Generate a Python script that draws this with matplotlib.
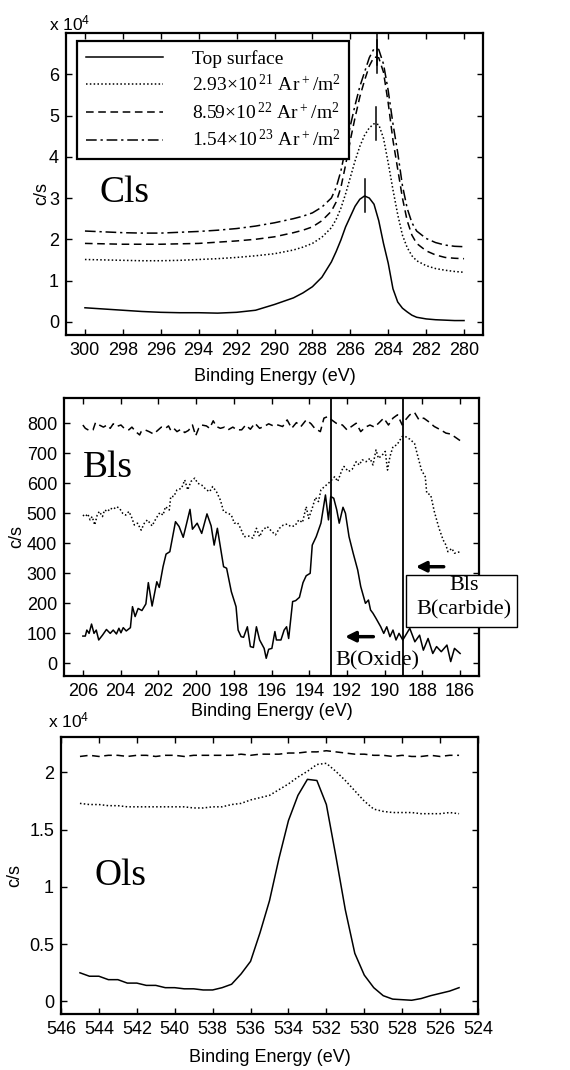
import matplotlib
matplotlib.use('Agg')
import matplotlib.pyplot as plt
from matplotlib.patches import Rectangle
from matplotlib.ticker import FormatStrFormatter

plt.rcParams['font.family'] = ['Liberation Sans', 'DejaVu Sans']

# ---- C1s (values in units of 1e4 c/s) ----
c1s_energy = [300, 299, 298, 297, 296, 295, 294, 293, 292, 291, 290, 289,
              288.5, 288, 287.5, 287,
              286.75, 286.5, 286.25, 286, 285.75, 285.5, 285.25, 285,
              284.75, 284.5, 284.25, 284, 283.75, 283.5, 283.25, 283,
              282.75, 282.5, 282, 281.5, 281, 280.5, 280]
c1s_top = [0.34, 0.31, 0.28, 0.25, 0.23, 0.22, 0.22, 0.21, 0.23, 0.28, 0.42, 0.58,
           0.70, 0.85, 1.08, 1.45,
           1.70, 1.98, 2.30, 2.55, 2.80, 2.97, 3.05, 3.00,
           2.85, 2.45, 1.90, 1.42, 0.80, 0.48, 0.33, 0.24,
           0.16, 0.11, 0.07, 0.05, 0.04, 0.03, 0.03]
c1s_dose1 = [1.51, 1.50, 1.49, 1.48, 1.48, 1.49, 1.51, 1.53, 1.56, 1.60, 1.65, 1.74,
             1.81, 1.90, 2.05, 2.28,
             2.48, 2.75, 3.10, 3.50, 3.90, 4.25, 4.52, 4.70,
             4.80, 4.78, 4.45, 3.85, 3.20, 2.60, 2.10, 1.80,
             1.60, 1.48, 1.36, 1.29, 1.25, 1.22, 1.20]
c1s_dose2 = [1.90, 1.89, 1.88, 1.88, 1.88, 1.89, 1.90, 1.93, 1.96, 2.00, 2.06, 2.16,
             2.22, 2.30, 2.45, 2.68,
             2.90, 3.25, 3.80, 4.40, 4.95, 5.45, 5.85, 6.20,
             6.42, 6.40, 6.05, 5.30, 4.40, 3.70, 3.00, 2.45,
             2.10, 1.90, 1.72, 1.62, 1.56, 1.54, 1.53]
c1s_dose3 = [2.20, 2.18, 2.16, 2.15, 2.15, 2.17, 2.19, 2.22, 2.26, 2.32, 2.40, 2.50,
             2.56, 2.64, 2.78, 3.00,
             3.25, 3.65, 4.20, 4.75, 5.25, 5.70, 6.05, 6.40,
             6.62, 6.60, 6.25, 5.60, 4.80, 4.10, 3.30, 2.75,
             2.40, 2.20, 2.02, 1.92, 1.86, 1.83, 1.82]
c1s_peak_energy = [285.25, 284.62, 284.6, 284.6]
c1s_peak_height = [3.05, 4.80, 6.42, 6.62]

legend_labels = ['Top surface',
                 '2.93\u00d710$\\mathregular{^{\\,21}}$ Ar$\\mathregular{^+}$/m$\\mathregular{^2}$',
                 '8.59\u00d710$\\mathregular{^{\\,22}}$ Ar$\\mathregular{^+}$/m$\\mathregular{^2}$',
                 '1.54\u00d710$\\mathregular{^{\\,23}}$ Ar$\\mathregular{^+}$/m$\\mathregular{^2}$']

# ---- B1s (c/s) ----
b1s_top_energy = [206.0, 205.87, 205.79, 205.67, 205.54, 205.41, 205.29, 205.16, 204.96, 204.75,
                  204.55, 204.39, 204.22, 204.09, 203.98, 203.86, 203.70, 203.48, 203.37, 203.23,
                  203.07, 202.87, 202.66, 202.53, 202.33, 202.08, 201.95, 201.75, 201.59, 201.39,
                  201.09, 200.90, 200.68, 200.52, 200.32, 200.19, 199.94, 199.70, 199.42, 199.20,
                  199.04, 198.87, 198.54, 198.38, 198.13, 197.88, 197.77, 197.61, 197.48, 197.28,
                  197.12, 196.96, 196.80, 196.63, 196.39, 196.28, 196.15, 195.98, 195.82, 195.74,
                  195.50, 195.33, 195.20, 195.09, 194.88, 194.72, 194.52, 194.33, 194.16, 193.95,
                  193.84, 193.63, 193.38, 193.14, 192.98, 192.86, 192.70, 192.54, 192.41, 192.21,
                  192.08, 191.89, 191.67, 191.43, 191.27, 191.02, 190.86, 190.75, 190.62, 190.46,
                  190.21, 190.05, 189.89, 189.72, 189.56, 189.40, 189.24, 189.04, 188.83, 188.67,
                  188.40, 188.15, 187.95, 187.70, 187.45, 187.25, 187.00, 186.70, 186.50, 186.30,
                  186.00]
b1s_top = [91, 91, 111, 100, 131, 100, 111, 78, 94, 113,
           100, 111, 98, 117, 102, 119, 108, 119, 189, 156,
           183, 176, 198, 269, 191, 272, 253, 322, 364, 372,
           472, 456, 420, 461, 513, 447, 467, 433, 498, 458,
           394, 450, 322, 317, 239, 189, 111, 89, 87, 122,
           56, 53, 122, 78, 50, 17, 47, 50, 106, 78,
           78, 111, 122, 83, 206, 209, 220, 269, 292, 300,
           394, 422, 467, 561, 478, 556, 550, 511, 467, 520,
           500, 422, 367, 311, 256, 200, 211, 178, 167, 150,
           122, 100, 122, 89, 111, 78, 100, 78, 100, 117,
           72, 94, 44, 83, 33, 56, 39, 61, 6, 50,
           33]

b1s_dose1_energy = [206.0, 205.87, 205.74, 205.62, 205.51, 205.37, 205.24, 205.13, 204.96, 204.85,
                    204.68, 204.55, 204.39, 204.22, 204.06, 203.89, 203.73, 203.56, 203.43, 203.27,
                    203.10, 202.91, 202.74, 202.58, 202.33, 202.12, 201.92, 201.75, 201.62, 201.42,
                    201.34, 201.18, 201.01, 200.77, 200.60, 200.44, 200.27, 200.07, 199.91, 199.70,
                    199.45, 199.28, 199.12, 198.92, 198.71, 198.54, 198.30, 198.13, 197.97, 197.80,
                    197.64, 197.45, 197.20, 196.99, 196.80, 196.63, 196.47, 196.23, 195.98, 195.79,
                    195.58, 195.37, 195.17, 194.98, 194.76, 194.55, 194.36, 194.16, 194.03, 193.84,
                    193.67, 193.51, 193.38, 193.19, 192.98, 192.81, 192.65, 192.49, 192.28, 192.16,
                    191.92, 191.72, 191.51, 191.35, 191.19, 190.98, 190.78, 190.62, 190.46, 190.33,
                    190.13, 189.97, 189.85, 189.72, 189.56, 189.35, 189.19, 189.07, 188.91, 188.67,
                    188.42, 188.26, 188.05, 187.85, 187.77, 187.56, 187.37, 187.12, 186.90, 186.75,
                    186.65, 186.44, 186.30, 186.00]
b1s_dose1 = [494, 489, 498, 478, 489, 461, 494, 506, 489, 511,
             506, 517, 513, 522, 517, 500, 494, 506, 489, 461,
             467, 444, 467, 478, 458, 483, 502, 494, 522, 511,
             556, 556, 578, 583, 611, 578, 606, 617, 600, 594,
             578, 572, 589, 572, 544, 506, 500, 494, 467, 469,
             450, 422, 424, 417, 450, 422, 444, 456, 439, 428,
             450, 461, 464, 456, 458, 478, 469, 522, 483, 517,
             553, 539, 578, 589, 600, 611, 622, 606, 642, 656,
             639, 647, 672, 661, 678, 672, 683, 661, 711, 683,
             694, 706, 644, 689, 722, 728, 744, 756, 756, 747,
             733, 694, 644, 622, 567, 561, 506, 450, 411, 394,
             372, 383, 367, 372]

b1s_dose2_energy = [206.0, 205.87, 205.67, 205.46, 205.33, 205.13, 204.91, 204.72, 204.55, 204.39,
                    204.22, 203.98, 203.81, 203.56, 203.40, 203.20, 202.99, 202.91, 202.71, 202.49,
                    202.25, 202.00, 201.84, 201.62, 201.46, 201.34, 201.18, 201.01, 200.80, 200.60,
                    200.40, 200.19, 200.02, 199.86, 199.70, 199.45, 199.28, 199.09, 198.92, 198.71,
                    198.49, 198.30, 198.05, 197.84, 197.58, 197.37, 197.12, 196.88, 196.63, 196.34,
                    196.15, 195.90, 195.66, 195.41, 195.17, 194.93, 194.68, 194.44, 194.16, 193.90,
                    193.71, 193.41, 193.22, 193.02, 192.81, 192.57, 192.24, 192.00, 191.76, 191.51,
                    191.27, 191.02, 190.78, 190.54, 190.29, 190.05, 189.80, 189.56, 189.32, 189.07,
                    188.86, 188.67, 188.42, 188.18, 187.93, 187.69, 187.37, 187.04, 186.75, 186.50,
                    186.00]
b1s_dose2 = [794, 783, 776, 778, 802, 794, 787, 794, 783, 798,
             789, 794, 783, 778, 787, 772, 761, 772, 778, 772,
             764, 778, 787, 783, 791, 776, 783, 772, 780, 769,
             776, 794, 758, 783, 794, 791, 783, 808, 789, 783,
             787, 778, 787, 778, 778, 794, 780, 800, 783, 791,
             798, 791, 794, 789, 811, 783, 802, 789, 811, 798,
             783, 772, 817, 822, 811, 800, 794, 778, 789, 800,
             772, 787, 794, 787, 802, 817, 794, 817, 828, 794,
             814, 828, 836, 811, 817, 806, 789, 778, 767, 764,
             742]
b1s_markers = [192.86, 189.04]

# ---- O1s (values in units of 1e4 c/s) ----
o1s_energy = [545.0, 544.5, 544.0, 543.5, 543.0, 542.5, 542.0, 541.5, 541.0, 540.5,
              540.0, 539.5, 539.0, 538.5, 538.0, 537.5, 537.0, 536.5, 536.0, 535.5,
              535.0, 534.5, 534.0, 533.5, 533.0, 532.5, 532.0, 531.5, 531.0, 530.5,
              530.0, 529.5, 529.0, 528.5, 528.0, 527.5, 527.0, 526.5, 526.0, 525.5,
              525.0]
o1s_top = [0.25, 0.22, 0.22, 0.19, 0.19, 0.16, 0.16, 0.14, 0.14, 0.12,
           0.12, 0.11, 0.11, 0.10, 0.10, 0.12, 0.15, 0.24, 0.35, 0.60,
           0.88, 1.25, 1.58, 1.80, 1.94, 1.93, 1.72, 1.27, 0.80, 0.42,
           0.23, 0.12, 0.05, 0.02, 0.015, 0.01, 0.025, 0.05, 0.07, 0.09,
           0.12]
o1s_dose1 = [1.73, 1.72, 1.72, 1.71, 1.71, 1.70, 1.70, 1.70, 1.70, 1.70,
             1.70, 1.70, 1.69, 1.69, 1.70, 1.70, 1.72, 1.73, 1.76, 1.78,
             1.80, 1.85, 1.90, 1.96, 2.01, 2.07, 2.08, 2.01, 1.93, 1.84,
             1.75, 1.68, 1.66, 1.65, 1.65, 1.65, 1.64, 1.64, 1.64, 1.65,
             1.64]
o1s_dose2 = [2.14, 2.15, 2.14, 2.15, 2.15, 2.14, 2.15, 2.15, 2.14, 2.15,
             2.15, 2.14, 2.15, 2.15, 2.15, 2.15, 2.15, 2.16, 2.15, 2.16,
             2.16, 2.16, 2.17, 2.17, 2.18, 2.18, 2.19, 2.18, 2.17, 2.16,
             2.16, 2.15, 2.15, 2.14, 2.15, 2.14, 2.14, 2.15, 2.14, 2.15,
             2.15]

line_styles = ['-', (0, (1, 1.5)), (0, (5, 3)), (0, (7, 2.5, 1.5, 2.5))]


def style_axes(ax, xlim, xticks, ylim, yticks):
    ax.set_xlim(xlim)
    ax.set_ylim(ylim)
    ax.set_xticks(xticks)
    ax.set_yticks(yticks)
    ax.yaxis.set_major_formatter(FormatStrFormatter('%g'))
    ax.tick_params(direction='in', top=True, right=True, length=4, width=1,
                   labelsize=13, pad=5)
    for s in ax.spines.values():
        s.set_linewidth(1.6)
    ax.set_xlabel('Binding Energy (eV)', fontsize=13)
    ax.set_ylabel('c/s', fontsize=13)


def plotC1s(fig):
    ax = fig.add_axes([66/570, 1-335/1070, 417/570, 302/1070])
    series = [c1s_top, c1s_dose1, c1s_dose2, c1s_dose3]
    handles = []
    for vals, ls in zip(series, line_styles):
        h, = ax.plot(c1s_energy, vals, color='k', lw=1.1, ls=ls)
        handles.append(h)
    for e, h in zip(c1s_peak_energy, c1s_peak_height):
        ax.plot([e, e], [h - 0.4, h + 0.4], color='k', lw=1.1)

    style_axes(ax, (301, 279), range(300, 279, -2), (-0.32, 7.0), range(0, 7))
    ax.xaxis.set_label_coords(0.5, -0.108)
    ax.yaxis.set_label_coords(-0.038, 0.47)

    leg = ax.legend(handles, legend_labels, loc='upper left', bbox_to_anchor=(0.026, 0.9735),
                    prop={'family': 'Liberation Serif', 'size': 14}, fancybox=False,
                    edgecolor='k', framealpha=1, borderaxespad=0, handlelength=4.0,
                    handletextpad=1.45, labelspacing=0.33, borderpad=0.45)
    leg.get_frame().set_linewidth(1.6)

    ax.text(-0.041, 1.01, 'x 10$\\mathregular{^4}$', transform=ax.transAxes, fontsize=12.5,
            va='baseline')
    ax.text(0.0815, 0.47, 'Cls', transform=ax.transAxes, fontsize=27,
            family='Liberation Serif', va='center')


def plotB1s(fig):
    ax = fig.add_axes([64/570, 1-676/1070, 415/570, 278/1070])
    ax.plot(b1s_top_energy, b1s_top, color='k', lw=1.1, ls=line_styles[0])
    ax.plot(b1s_dose1_energy, b1s_dose1, color='k', lw=1.1, ls=line_styles[1])
    ax.plot(b1s_dose2_energy, b1s_dose2, color='k', lw=1.1, ls=line_styles[2])
    for e in b1s_markers:
        ax.axvline(e, color='k', lw=1.3)

    style_axes(ax, (207, 185), range(206, 185, -2), (-42, 884), range(0, 801, 100))
    ax.xaxis.set_label_coords(0.5, -0.097)
    ax.yaxis.set_label_coords(-0.094, 0.5)

    ax.text(0.046, 0.75, 'Bls', transform=ax.transAxes, fontsize=27,
            family='Liberation Serif', va='center')

    # B(Oxide) label and arrow
    ax.annotate('', xy=(192.1, 89), xytext=(190.6, 89),
                arrowprops=dict(arrowstyle='-|>', color='k', lw=2.5, mutation_scale=15,
                                shrinkA=0, shrinkB=0))
    ax.text(190.4, 8, 'B(Oxide)', fontsize=16, family='Liberation Serif',
            ha='center', va='center')

    # B(carbide) box and arrow
    ax.annotate('', xy=(188.35, 322), xytext=(186.87, 322),
                arrowprops=dict(arrowstyle='-|>', color='k', lw=2.5, mutation_scale=15,
                                shrinkA=0, shrinkB=0), annotation_clip=False)
    box = Rectangle((0.824, 0.176), 0.2675, 0.187, transform=ax.transAxes, fc='white',
                    ec='k', lw=1, clip_on=False, zorder=4)
    ax.add_patch(box)
    ax.text(0.964, 0.324, 'Bls', transform=ax.transAxes, fontsize=16,
            family='Liberation Serif', ha='center', va='center', zorder=5)
    ax.text(0.964, 0.237, 'B(carbide)', transform=ax.transAxes, fontsize=16,
            family='Liberation Serif', ha='center', va='center', zorder=5)


def plotO1s(fig):
    ax = fig.add_axes([61/570, 1-1014/1070, 417/570, 277/1070])
    for vals, ls in zip([o1s_top, o1s_dose1, o1s_dose2], line_styles):
        ax.plot(o1s_energy, vals, color='k', lw=1.1, ls=ls)

    style_axes(ax, (546, 524), range(546, 523, -2), (-0.11, 2.31), [0, 0.5, 1, 1.5, 2])
    ax.xaxis.set_label_coords(0.5, -0.125)
    ax.yaxis.set_label_coords(-0.091, 0.5)

    ax.text(-0.031, 1.036, 'x 10$\\mathregular{^4}$', transform=ax.transAxes, fontsize=12.5,
            va='baseline')
    ax.text(0.0815, 0.5, 'Ols', transform=ax.transAxes, fontsize=27,
            family='Liberation Serif', va='center')


def main():
    fig = plt.figure(figsize=(5.7, 10.7), dpi=100)
    plotC1s(fig)
    plotB1s(fig)
    plotO1s(fig)
    fig.savefig('out.png', dpi=100)


if __name__ == '__main__':
    main()
